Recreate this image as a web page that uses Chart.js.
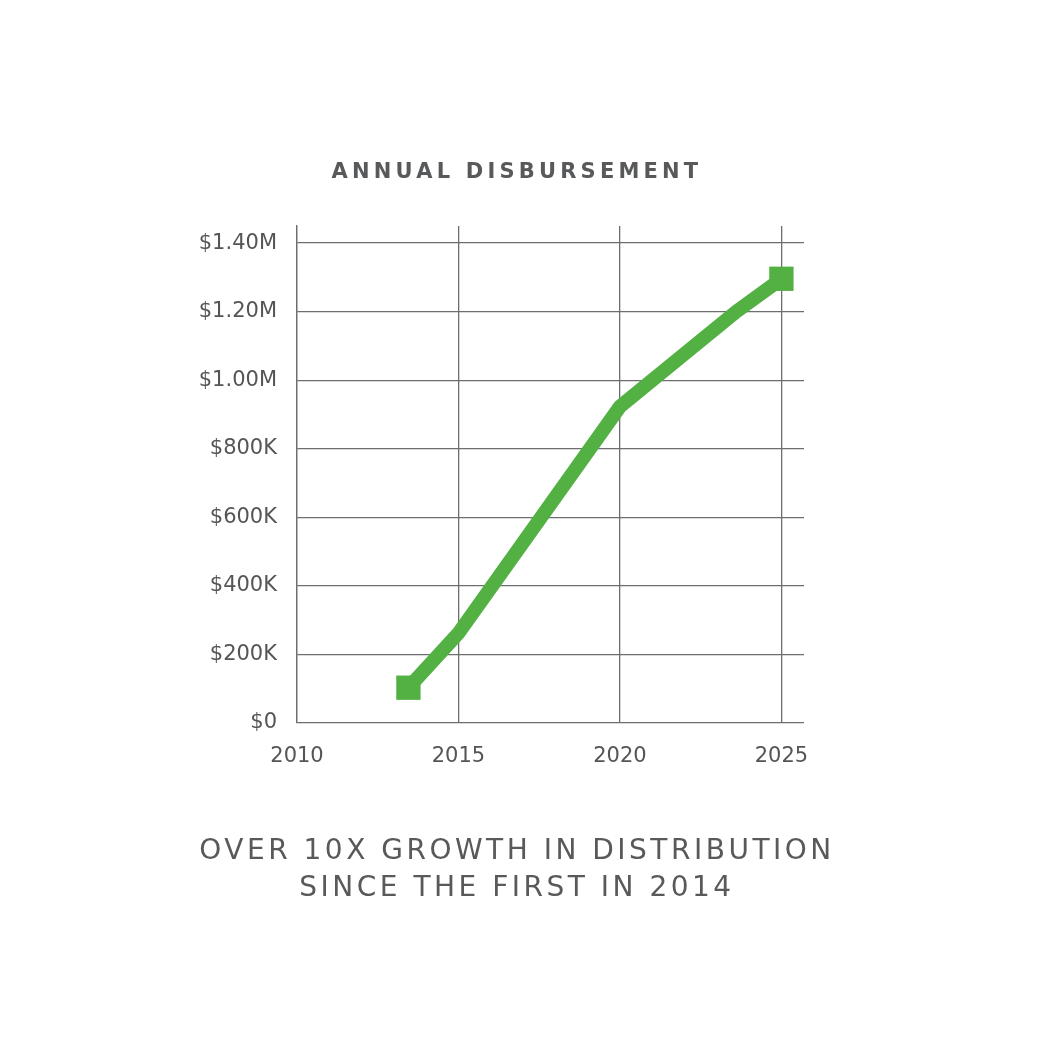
<!DOCTYPE html>
<html>
<head>
<meta charset="utf-8">
<script src="https://cdn.jsdelivr.net/npm/chart.js@4"></script>
<style>
  html, body { margin: 0; padding: 0; background: #fff; }
  #wrap { position: relative; width: 1050px; height: 1050px; }
  #c { position: absolute; left: 0; top: 0; }
  .txt { position: absolute; left: 0; width: 1034px; text-align: center; color: #58595b; font-family: "DejaVu Sans", sans-serif; white-space: nowrap; }
  #title { top: 159px; font-size: 21px; font-weight: bold; letter-spacing: 4.2px; }
  #cap { top: 831px; font-size: 28px; line-height: 37px; letter-spacing: 3.5px; }
</style>
</head>
<body>
<div id="wrap">
  <canvas id="c" width="1050" height="1050"></canvas>
  <div id="title" class="txt">ANNUAL DISBURSEMENT</div>
  <div id="cap" class="txt">OVER 10X GROWTH IN DISTRIBUTION<br>SINCE THE FIRST IN 2014</div>
</div>
<script>
const years = [2013.45, 2015, 2020, 2023.6, 2025];
const disbursement = [103000, 262000, 923000, 1200000, 1296000];
const xTicks = [2010, 2015, 2020, 2025];
const yTicks = [0, 200000, 400000, 600000, 800000, 1000000, 1200000, 1400000];

function fmtMoney(v) {
  if (v === 0) return '$0';
  if (v >= 1000000) return '$' + (v / 1000000).toFixed(2) + 'M';
  return '$' + Math.round(v / 1000) + 'K';
}

const green = '#53b144';
const gridColor = '#6d6e70';

new Chart(document.getElementById('c'), {
  type: 'line',
  data: {
    datasets: [{
      data: years.map((x, i) => ({ x: x, y: disbursement[i] })),
      borderColor: green,
      backgroundColor: green,
      borderWidth: 14,
      tension: 0,
      borderJoinStyle: 'miter',
      pointStyle: 'rect',
      pointRadius: years.map((_, i) => (i === 0 || i === years.length - 1) ? 17.2 : 0),
      pointHoverRadius: years.map((_, i) => (i === 0 || i === years.length - 1) ? 17.2 : 0),
      pointBorderWidth: 0,
      pointBackgroundColor: green,
      clip: false
    }]
  },
  options: {
    responsive: false,
    animation: false,
    devicePixelRatio: 1,
    layout: { padding: { left: 0, right: 246, top: 226, bottom: 267 } },
    plugins: { legend: { display: false }, tooltip: { enabled: false }, title: { display: false } },
    scales: {
      x: {
        type: 'linear',
        min: 2010,
        max: 2025.7,
        afterBuildTicks: s => { s.ticks = xTicks.map(v => ({ value: v })); },
        afterFit: s => { s.height = 60; },
        grid: { color: gridColor, lineWidth: 1.3, drawTicks: false },
        border: { display: false },
        ticks: {
          padding: 21,
          color: '#545557',
          font: { family: 'DejaVu Sans', size: 21 },
          callback: v => String(v),
          maxRotation: 0
        }
      },
      y: {
        type: 'linear',
        min: 0,
        max: 1450000,
        afterBuildTicks: s => { s.ticks = yTicks.map(v => ({ value: v })); },
        afterFit: s => { s.width = 297; },
        grid: { color: gridColor, lineWidth: 1.3, drawTicks: false },
        border: { display: true, color: gridColor, width: 1.3 },
        ticks: {
          padding: 20,
          color: '#545557',
          font: { family: 'DejaVu Sans', size: 21 },
          callback: v => fmtMoney(v)
        }
      }
    }
  }
});
</script>
</body>
</html>
